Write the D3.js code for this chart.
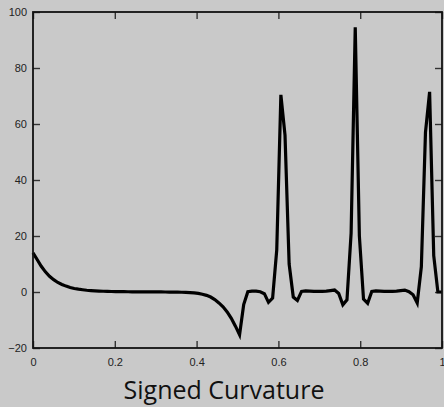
<!DOCTYPE html>
<html>
<head>
<meta charset="utf-8">
<script src="https://cdn.jsdelivr.net/npm/d3@7"></script>
<style>
  html, body { margin: 0; padding: 0; background: #c9c9c9; }
  svg { display: block; }
  .axis text { font-family: "Liberation Sans", Arial, sans-serif; font-size: 11px; fill: #222; }
  .axis line { stroke: #333; stroke-width: 1.4px; }
  .axis path { display: none; }
</style>
</head>
<body>
<div id="chart"></div>
<script>
// tick values
const xTicks = [0, 0.2, 0.4, 0.6, 0.8, 1];
const yTicks = [-20, 0, 20, 40, 60, 80, 100];

// signed curvature, 100 evenly spaced samples on [0, 1]
const curvature = [
  14.0, 11.6, 9.2, 7.2, 5.6, 4.4, 3.4, 2.7, 2.1, 1.6,
  1.25, 1.0, 0.8, 0.62, 0.5, 0.4, 0.32, 0.26, 0.21, 0.17,
  0.14, 0.12, 0.1, 0.09, 0.08, 0.07, 0.06, 0.05, 0.04, 0.03,
  0.02, 0.01, 0.0, -0.02, -0.04, -0.06, -0.09, -0.13, -0.19, -0.3,
  -0.48, -0.8, -1.2, -1.8, -2.7, -3.9, -5.3, -7.1, -9.4, -12.2,
  -15.3, -4.5, 0.1, 0.3, 0.3, 0.1, -0.6, -3.7, -2.2, 15,
  70.4, 56, 10, -1.8, -3.0, 0.2, 0.4, 0.3, 0.2, 0.2,
  0.2, 0.3, 0.5, 0.7, -0.5, -4.6, -2.8, 21, 94.5, 20,
  -2.5, -4.0, 0.2, 0.4, 0.3, 0.2, 0.2, 0.2, 0.3, 0.5,
  0.7, 0.1, -1.0, -3.9, 9, 57, 71.5, 13, 0, 0
];

const margin = { top: 12, right: 2, bottom: 59, left: 33 };
const width = 444 - margin.left - margin.right;
const height = 407 - margin.top - margin.bottom;

const svg = d3.select('#chart')
  .append('svg')
  .attr('width', 444)
  .attr('height', 407);

const g = svg.append('g')
  .attr('transform', 'translate(' + margin.left + ',' + margin.top + ')');

const x = d3.scaleLinear().domain([0, 1]).range([0, width]);
const y = d3.scaleLinear().domain([-20, 100]).range([height, 0]);
// sample index -> x position
const xi = x.copy().domain([0, curvature.length - 1]);

// axes with inward ticks
g.append('g')
  .attr('class', 'axis')
  .call(d3.axisLeft(y).tickValues(yTicks).tickSize(-7).tickPadding(6).tickFormat(d3.format('d')));

g.append('g')
  .attr('class', 'axis')
  .attr('transform', 'translate(0,' + height + ')')
  .call(d3.axisBottom(x).tickValues(xTicks).tickSize(-7).tickPadding(10).tickFormat(d => d));

g.append('g')
  .attr('class', 'axis')
  .call(d3.axisTop(x).tickValues(xTicks).tickSize(-7).tickFormat(''));

g.append('g')
  .attr('class', 'axis')
  .attr('transform', 'translate(' + width + ',0)')
  .call(d3.axisRight(y).tickValues(yTicks).tickSize(-7).tickFormat(''));

// the curve
const line = d3.line()
  .x((d, i) => xi(i))
  .y(d => y(d));

g.append('path')
  .datum(curvature)
  .attr('fill', 'none')
  .attr('stroke', '#000')
  .attr('stroke-width', 3.2)
  .attr('stroke-linejoin', 'miter')
  .attr('d', line);

// frame
g.append('rect')
  .attr('width', width)
  .attr('height', height)
  .attr('fill', 'none')
  .attr('stroke', '#111')
  .attr('stroke-width', 1.8);

// title
svg.append('text')
  .attr('x', 224)
  .attr('y', 399)
  .attr('text-anchor', 'middle')
  .style('font-family', '"Open Sans", "DejaVu Sans", sans-serif')
  .style('font-size', '25px')
  .style('fill', '#111')
  .text('Signed Curvature');
</script>
</body>
</html>
